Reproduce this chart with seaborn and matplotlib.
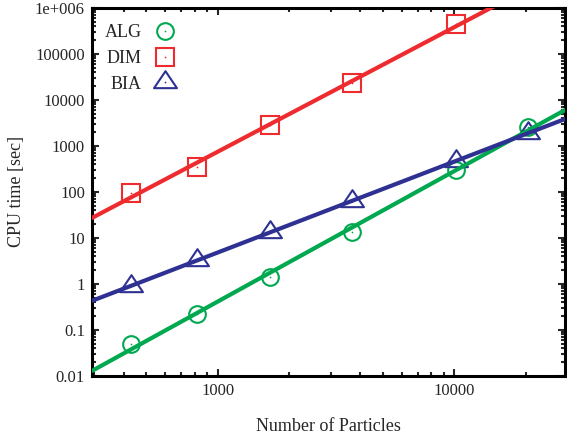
import numpy as np
import pandas as pd
import matplotlib
matplotlib.use("Agg")
import matplotlib.pyplot as plt
import seaborn as sns
from matplotlib.lines import Line2D
from matplotlib.path import Path
from matplotlib.legend_handler import HandlerTuple
from matplotlib.ticker import FixedLocator, FixedFormatter, LogLocator, NullFormatter

# values
n_particles = [432, 820, 1660, 3700, 10200, 20500]
alg_time = [0.049, 0.223, 1.44, 13.7, 300, 2630]
dim_time = [94, 355, 2860, 23800, 449000]
bia_time = [0.9, 3.3, 13.3, 63, 457, 1950]

series_names = ["ALG", "DIM", "BIA"]
series_colors = ["#00a84f", "#ee2b2e", "#2e3192"]

y_ticks = [0.01, 0.1, 1, 10, 100, 1000, 10000, 100000, 1e6]
y_tick_labels = ["0.01", "0.1", "1", "10", "100", "1000", "10000", "100000", "1e+006"]
x_ticks = [1000, 10000]
x_tick_labels = ["1000", "10000"]

# triangle with its centroid on the data point (like the reference)
tri = Path([(0, 12.2), (-12.35, -6.1), (12.35, -6.1), (0, 12.2)], closed=True)
series_markers = ["o", "s", tri]
series_msize = [12, 12.6, 16.5]

sns.set_style("ticks")
plt.rcParams["font.family"] = ["Liberation Serif", "DejaVu Serif"]

fig = plt.figure(figsize=(5.67, 4.37), dpi=100)
ax = fig.add_axes([0.162, 0.140, 0.835, 0.842])

xlim = (294, 29400)
xs = np.geomspace(xlim[0], xlim[1], 60)

all_times = [alg_time, dim_time, bia_time]
handles = []
for name, times, col, mk, ms in zip(series_names, all_times, series_colors,
                                      series_markers, series_msize):
    xn = n_particles[:len(times)]
    df = pd.DataFrame({"N": xn, "t": times})
    # hollow markers
    sns.lineplot(data=df, x="N", y="t", ax=ax, linestyle="", marker=mk,
                 markersize=ms, markerfacecolor="none", markeredgecolor=col,
                 markeredgewidth=1.5, color=col, zorder=3)
    # little dot in the middle of each marker
    sns.lineplot(data=df, x="N", y="t", ax=ax, linestyle="", marker=".",
                 markersize=2.5, color=col, markeredgewidth=0, zorder=3)
    # power-law fit line
    k, b = np.polyfit(np.log10(xn), np.log10(times), 1)
    fit = pd.DataFrame({"N": xs, "t": 10 ** (b + k * np.log10(xs))})
    sns.lineplot(data=fit, x="N", y="t", ax=ax, color=col, linewidth=3.0,
                 zorder=4)
    h1 = Line2D([], [], linestyle="", marker=mk, markersize=ms,
                markerfacecolor="none", markeredgecolor=col, markeredgewidth=1.5)
    h2 = Line2D([], [], linestyle="", marker=".", markersize=2.5, color=col,
                markeredgewidth=0)
    handles.append((h1, h2))

ax.set_xscale("log")
ax.set_yscale("log")
ax.set_xlim(*xlim)
ax.set_ylim(0.01, 1e6)

ax.yaxis.set_major_locator(FixedLocator(y_ticks))
ax.yaxis.set_major_formatter(FixedFormatter(y_tick_labels))
ax.yaxis.set_minor_locator(LogLocator(base=10, subs=np.arange(2, 10), numticks=20))
ax.yaxis.set_minor_formatter(NullFormatter())
ax.xaxis.set_major_locator(FixedLocator(x_ticks))
ax.xaxis.set_major_formatter(FixedFormatter(x_tick_labels))
ax.xaxis.set_minor_locator(LogLocator(base=10, subs=np.arange(2, 10), numticks=20))
ax.xaxis.set_minor_formatter(NullFormatter())

ax.tick_params(which="both", direction="in", top=True, right=True, width=1.5,
               labelsize=12, pad=5)
ax.tick_params(which="major", length=5)
ax.tick_params(which="minor", length=3)
for sp in ax.spines.values():
    sp.set_linewidth(2.2)
    sp.set_color("black")

ax.set_xlabel("Number of Particles", fontsize=13, labelpad=14)
ax.set_ylabel("CPU time [sec]", fontsize=13, labelpad=7)

ax.legend(handles, series_names, handler_map={tuple: HandlerTuple(ndivide=1)},
          loc="upper left", markerfirst=False, frameon=False, fontsize=13,
          handlelength=1.6, handletextpad=0.5, labelspacing=0.48,
          borderaxespad=0.3, bbox_to_anchor=(0.0, 0.99))

fig.savefig("out.png", dpi=100)
